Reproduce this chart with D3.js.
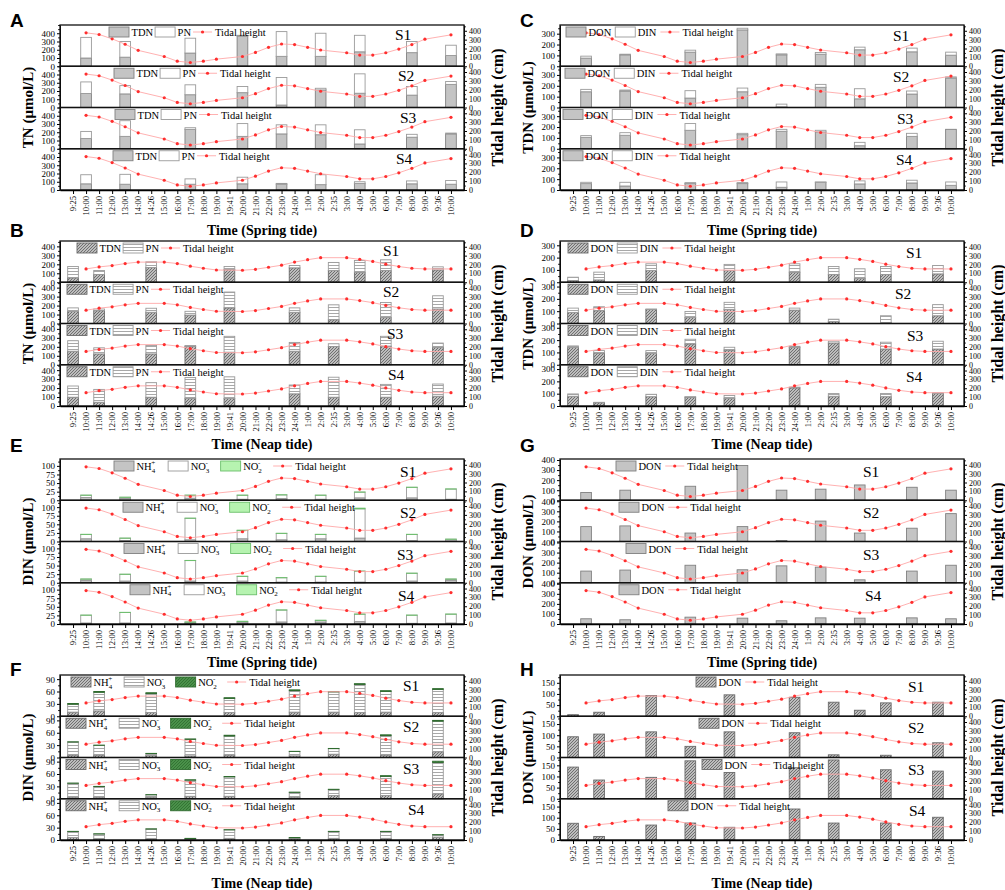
<!DOCTYPE html>
<html lang="en">
<head>
<meta charset="UTF-8">
<title>Nitrogen species vs tidal height</title>
<script src="https://cdnjs.cloudflare.com/ajax/libs/d3/7.8.5/d3.min.js"></script>
<style>
  body { margin: 0; background: #fff; }
  text { font-family: "Liberation Serif", "Times New Roman", serif; fill: #000; }
  .tick line, .domain { stroke: #000; }
</style>
</head>
<body>
<script>
// ---- categories (time axis, same labels for spring and neap) ----
const timeKeys = ["9:25","10:00","11:00","12:00","13:00","14:00","14:26","15:00","16:00","17:00",
  "18:00","19:00","19:41","20:00","21:00","22:00","23:00","24:00","1:00","2:00","2:35","3:00",
  "4:00","5:00","6:00","7:00","8:00","9:00","9:36","10:00 b"];
const tideTimes = ["10:00","11:00","12:00","13:00","14:00","15:00","16:00","17:00","18:00","19:00",
  "20:00","21:00","22:00","23:00","24:00","1:00","2:00","3:00","4:00","5:00","6:00","7:00","8:00","9:00","10:00 b"];
const springSamples = ["10:00","13:00","17:00","20:00","23:00","2:00","4:00","8:00","10:00 b"];
const neapSamples = ["9:25","11:00","14:26","17:00","19:41","24:00","2:35","4:00","6:00","9:36"];

// ---- tidal height (cm) ----
const springTide = [377,358,309,248,179,110,57,42,57,80,110,156,213,251,244,213,183,152,126,126,152,194,244,305,354];
const neapTide = [150,173,188,211,227,227,211,181,158,138,135,146,169,192,227,254,277,277,258,235,204,177,158,150,150];

// ---- A: TN spring (rows S1..S4) ----
const aTDN = [[100,110,160,365,120,120,175,165,130],[170,165,155,180,30,213,173,150,280],
  [125,150,235,150,180,170,58,140,180],[75,70,70,75,70,65,80,75,70]];
const aPN = [[250,190,180,10,300,280,200,135,125],[140,100,120,75,334,20,235,105,35],
  [85,190,20,155,110,120,172,35,10],[110,120,65,80,10,120,20,35,45]];
// ---- B: TN neap ----
const bTDN = [[49,86,165,null,142,161,131,112,131,138],[136,143,125,94,174,125,42,null,68,162],
  [151,121,121,204,140,151,204,null,208,196],[98,42,98,87,83,136,98,null,98,109]];
const bPN = [[127,45,63,null,34,26,90,131,119,34],[38,19,45,42,177,49,166,null,166,147],
  [117,68,94,11,177,98,30,null,109,46],[125,143,162,230,242,98,223,null,143,136]];
// ---- C: TDN spring ----
const cDON = [[75,105,130,335,105,111,152,133,102],[145,152,87,145,6,186,80,124,272],
  [105,124,170,130,161,155,28,114,179],[59,37,59,59,25,71,56,65,43]];
const cDIN = [[18,6,18,15,9,16,24,34,28],[22,9,68,34,25,27,93,28,10],
  [16,24,62,12,18,15,31,28,0],[12,34,9,9,49,3,28,25,31]];
// ---- D: TDN neap ----
const dDON = [[14,19,95,null,95,82,63,33,63,68],[90,104,115,49,115,109,16,null,8,63],
  [142,95,93,169,120,142,177,null,128,128],[79,27,76,71,63,147,79,null,76,104]];
const dDIN = [[27,63,55,null,50,68,65,76,65,68],[35,32,2,49,57,16,19,null,55,90],
  [11,20,22,38,22,8,14,null,55,63],[19,3,19,5,22,6,22,null,25,2]];
// ---- E: DIN spring ----
const eNH4 = [[8,5,6,3,5,3,7,7,3],[8,3,5,8,5,8,10,3,2],[7,5,5,5,2,2,2,5,8],[3,3,3,4,6,6,7,2,3]];
const eNO3 = [[6.5,3.5,8.5,11.5,10.5,11.5,16.5,30.5,29.5],[12.5,6.5,62.5,24,18.5,12.5,85,17.5,4.5],
  [3.5,19.5,59.5,13.5,12.5,16.5,31.5,22.5,2.5],[22.5,30.5,2.5,3.5,34.5,4.5,21.5,23.5,25.5]];
const eNO2 = [[0.5,0.5,0.5,0.5,0.5,0.5,0.5,0.5,0.5],[0.5,0.5,0.5,1,0.5,0.5,2,0.5,0.5],
  [0.5,0.5,0.5,0.5,0.5,0.5,0.5,0.5,0.5],[0.5,0.5,0.5,0.5,0.5,0.5,0.5,0.5,0.5]];
// ---- F: DIN neap ----
const fNH4 = [[10,13,9,null,9,10,10,9,10,9],[6,6,5,4,6,4,8,null,6,14],
  [4,4,4,6,6,4,8,null,8,12],[6,3,3,2,4,4,4,null,4,7]];
const fNO3 = [[19,45,46,null,34,52,49,68,50,56],[31.5,23.5,4.5,40,46,10.5,13.5,null,47,74],
  [33.5,25.5,5.5,39,47,11.5,14.5,null,46,76],[14.5,11.5,23.5,1.5,20.5,1.5,16.5,null,16.5,5.5]];
const fNO2 = [[2,2,2,null,2,2,1,2,2,2],[0.5,0.5,0.5,1,2,0.5,0.5,null,2,2],
  [0.5,0.5,0.5,1,1,0.5,0.5,null,2,3],[0.5,0.5,0.5,0.5,0.5,0.5,0.5,null,0.5,0.5]];
// ---- G: DON spring ----
const gDON = [[77,100,139,345,100,110,152,129,100],[148,155,84,148,10,203,84,132,277],
  [116,126,174,129,168,155,29,116,174],[52,42,68,58,32,61,58,61,52]];
// ---- H: DON neap ----
const hDON = [[7,18,93,null,96,85,63,27,60,63],[93,105,115,50,115,111,12,null,10,66],
  [142,84,96,170,118,139,174,null,130,124],[75,16,67,76,57,139,76,null,76,102]];

const stations = ["S1","S2","S3","S4"];

// ---- layout ----
const W = 1005, H = 890;
const colX = [60, 560], plotW = 404;
const rowY = [25, 241, 459, 675], plotH = 165, subH = plotH / 4;
const letterX = [10, 520], letterY = [27, 237, 452, 676];
const xTitleY = [235, 449, 667, 888];
const rightMax = 465;

const svg = d3.select("body").append("svg").attr("width", W).attr("height", H);
const defs = svg.append("defs");

// patterns for neap bars
const hatch = defs.append("pattern").attr("id", "hatch").attr("patternUnits", "userSpaceOnUse")
  .attr("width", 3).attr("height", 3);
hatch.append("rect").attr("width", 3).attr("height", 3).attr("fill", "#bdbdbd");
hatch.append("path").attr("d", "M-1,1 l2,-2 M0,3 l3,-3 M2,4 l2,-2")
  .attr("stroke", "#5c5c5c").attr("stroke-width", 0.8);
const hline = defs.append("pattern").attr("id", "hline").attr("patternUnits", "userSpaceOnUse")
  .attr("width", 4).attr("height", 3);
hline.append("rect").attr("width", 4).attr("height", 3).attr("fill", "#fff");
hline.append("line").attr("x1", 0).attr("x2", 4).attr("y1", 1.5).attr("y2", 1.5)
  .attr("stroke", "#a8a8a8").attr("stroke-width", 1);
const dgreen = defs.append("pattern").attr("id", "dgreen").attr("patternUnits", "userSpaceOnUse")
  .attr("width", 3).attr("height", 3);
dgreen.append("rect").attr("width", 3).attr("height", 3).attr("fill", "#4a914a");
dgreen.append("path").attr("d", "M0,3 l3,-3").attr("stroke", "#2f6b2f").attr("stroke-width", 0.8);

const styles = {
  grey:   { fill: "#c4c4c4", stroke: "#808080" },
  white:  { fill: "#ffffff", stroke: "#9a9a9a" },
  lgreen: { fill: "#b6f3b0", stroke: "#6cbf6c" },
  hatch:  { fill: "url(#hatch)", stroke: "#6a6a6a" },
  hline:  { fill: "url(#hline)", stroke: "#9a9a9a" },
  dgreen: { fill: "url(#dgreen)", stroke: "#2f6b2f" }
};

function plain(s) { return t => t.text(s); }
function ion(base, sub, sup) {
  return t => {
    t.text(base);
    t.append("tspan").attr("font-size", 7).attr("dy", 2.5).text(sub);
    t.append("tspan").attr("font-size", 7).attr("dx", -3.8).attr("dy", -7.5).text(sup);
  };
}

const panels = [
  { letter: "A", col: 0, row: 0, tide: "spring", yTitle: "TN (\u03bcmol/L)", yMax: 500,
    ticks: [0,100,200,300,400], minor: 50, gap: 2,
    series: [{ key: "TDN", data: aTDN, style: "grey", label: plain("TDN") },
             { key: "PN", data: aPN, style: "white", label: plain("PN") }],
    legendX: [49,54,55,53], stX: [335,338,340,336], stY: 15 },
  { letter: "B", col: 0, row: 1, tide: "neap", yTitle: "TN (\u03bcmol/L)", yMax: 460,
    ticks: [0,100,200,300,400], minor: 50, gap: 2,
    series: [{ key: "TDN", data: bTDN, style: "hatch", label: plain("TDN") },
             { key: "PN", data: bPN, style: "hline", label: plain("PN") }],
    legendX: [17,7,7,7], stX: [323,323,327,328], stY: 15 },
  { letter: "C", col: 1, row: 0, tide: "spring", yTitle: "TDN (\u03bcmol/L)", yMax: 380,
    ticks: [0,100,200,300], minor: 50, gap: 4,
    series: [{ key: "DON", data: cDON, style: "grey", label: plain("DON") },
             { key: "DIN", data: cDIN, style: "white", label: plain("DIN") }],
    legendX: [6,5,3,3], stX: [333,333,337,336], stY: 16 },
  { letter: "D", col: 1, row: 1, tide: "neap", yTitle: "TDN (\u03bcmol/L)", yMax: 335,
    ticks: [0,100,200,300], minor: 50, gap: 4,
    series: [{ key: "DON", data: dDON, style: "hatch", label: plain("DON") },
             { key: "DIN", data: dDIN, style: "hline", label: plain("DIN") }],
    legendX: [8,8,8,8], stX: [346,335,347,346], stY: 17 },
  { letter: "E", col: 0, row: 2, tide: "spring", yTitle: "DIN (\u03bcmol/L)", yMax: 120,
    ticks: [0,25,50,75,100], minor: 12.5, gap: 9,
    series: [{ key: "NH4", data: eNH4, style: "grey", label: ion("NH", "4", "+") },
             { key: "NO3", data: eNO3, style: "white", label: ion("NO", "3", "-") },
             { key: "NO2", data: eNO2, style: "lgreen", label: ion("NO", "2", "-") }],
    legendX: [54,63,64,70], stX: [340,340,337,338], stY: 18 },
  { letter: "F", col: 0, row: 3, tide: "neap", yTitle: "DIN (\u03bcmol/L)", yMax: 100,
    ticks: [0,30,60,90], minor: 15, gap: 8,
    series: [{ key: "NH4", data: fNH4, style: "hatch", label: ion("NH", "4", "+") },
             { key: "NO3", data: fNO3, style: "hline", label: ion("NO", "3", "-") },
             { key: "NO2", data: fNO2, style: "dgreen", label: ion("NO", "2", "-") }],
    legendX: [11,6,6,6], stX: [343,343,343,348], stY: 16 },
  { letter: "G", col: 1, row: 2, tide: "spring", yTitle: "DON (\u03bcmol/L)", yMax: 410,
    ticks: [0,100,200,300,400], minor: 50, gap: 4,
    series: [{ key: "DON", data: gDON, style: "grey", label: plain("DON") }],
    legendX: [56,59,66,59], stX: [303,303,303,305], stY: 18 },
  { letter: "H", col: 1, row: 3, tide: "neap", yTitle: "DON (\u03bcmol/L)", yMax: 185,
    ticks: [0,50,100,150], minor: 25, gap: 4,
    series: [{ key: "DON", data: hDON, style: "hatch", label: plain("DON") }],
    legendX: [136,139,142,108], stX: [348,348,348,349], stY: 17 }
];

panels.forEach(drawPanel);

function drawPanel(p) {
  const x0 = colX[p.col], y0 = rowY[p.row];
  const x = d3.scalePoint().domain(timeKeys).range([x0, x0 + plotW]).padding(1);
  const bw = x.step() * 0.82;
  const samples = p.tide === "spring" ? springSamples : neapSamples;
  const tideVals = p.tide === "spring" ? springTide : neapTide;
  const keys = p.series.map(s => s.key);
  const minorVals = d3.range(0, p.yMax + 0.01, p.minor).filter(v => !p.ticks.includes(v));

  stations.forEach((st, s) => {
    const top = y0 + s * subH, bot = top + subH;
    const y = d3.scaleLinear().domain([0, p.yMax]).range([bot, top]);
    const yr = d3.scaleLinear().domain([0, rightMax]).range([bot, top]);
    const g = svg.append("g");

    // stacked bars
    const rows = samples.map((t, i) => {
      const o = { t };
      p.series.forEach(se => { o[se.key] = se.data[s][i]; });
      return o;
    }).filter(r => r[keys[0]] != null);
    const stacked = d3.stack().keys(keys)(rows);
    stacked.forEach((layer, li) => {
      const sty = styles[p.series[li].style];
      g.append("g").selectAll("rect").data(layer).join("rect")
        .attr("x", d => x(d.data.t) - bw / 2)
        .attr("width", bw)
        .attr("y", d => y(d[1]))
        .attr("height", d => Math.max(0, y(d[0]) - y(d[1])))
        .attr("fill", sty.fill)
        .attr("stroke", sty.stroke)
        .attr("stroke-width", 0.9);
    });

    // tidal height
    const line = d3.line().x((d, i) => x(tideTimes[i])).y(d => yr(d));
    g.append("path").datum(tideVals).attr("d", line)
      .attr("fill", "none").attr("stroke", "#ffa8a8").attr("stroke-width", 0.9);
    g.append("g").selectAll("circle").data(tideVals).join("circle")
      .attr("cx", (d, i) => x(tideTimes[i])).attr("cy", d => yr(d))
      .attr("r", 1.6).attr("fill", "#ff2e2e");

    // axes
    const la = g.append("g").attr("transform", `translate(${x0},0)`)
      .call(d3.axisLeft(y).tickValues(p.ticks).tickSize(3).tickSizeOuter(0).tickPadding(2));
    la.selectAll("text").attr("font-size", 9).attr("fill", "#000");
    g.append("g").attr("transform", `translate(${x0},0)`)
      .call(d3.axisLeft(y).tickValues(minorVals).tickSize(1.8).tickFormat(""))
      .select(".domain").remove();
    const ra = g.append("g").attr("transform", `translate(${x0 + plotW},0)`)
      .call(d3.axisRight(yr).tickValues([0,100,200,300,400]).tickSize(3).tickSizeOuter(0).tickPadding(2));
    ra.selectAll("text").attr("font-size", 8).attr("fill", "#000");
    g.append("g").attr("transform", `translate(${x0 + plotW},0)`)
      .call(d3.axisRight(yr).tickValues([50,150,250,350,450]).tickSize(1.8).tickFormat(""))
      .select(".domain").remove();

    // frame
    g.append("rect").attr("x", x0).attr("y", top).attr("width", plotW).attr("height", subH)
      .attr("fill", "none").attr("stroke", "#111").attr("stroke-width", 1.3);

    // legend
    let cx = x0 + p.legendX[s];
    const ly = top + 2;
    p.series.forEach(se => {
      const sty = styles[se.style];
      g.append("rect").attr("x", cx).attr("y", ly).attr("width", 20).attr("height", 10)
        .attr("fill", sty.fill).attr("stroke", sty.stroke).attr("stroke-width", 0.9);
      cx += 22.5;
      const t = g.append("text").attr("x", cx).attr("y", ly + 9).attr("font-size", 10.5);
      se.label(t);
      cx += t.node().getComputedTextLength() + p.gap;
    });
    g.append("line").attr("x1", cx).attr("x2", cx + 19).attr("y1", ly + 5).attr("y2", ly + 5)
      .attr("stroke", "#ffa8a8").attr("stroke-width", 0.9);
    g.append("circle").attr("cx", cx + 9.5).attr("cy", ly + 5).attr("r", 1.6).attr("fill", "#ff2e2e");
    g.append("text").attr("x", cx + 22).attr("y", ly + 9).attr("font-size", 10.5).text("Tidal height");

    // station label
    g.append("text").attr("x", x0 + p.stX[s]).attr("y", top + p.stY)
      .attr("font-size", 15.5).text(st);
  });

  // bottom axis
  const bottom = y0 + plotH;
  const xa = svg.append("g").attr("transform", `translate(0,${bottom})`)
    .call(d3.axisBottom(x).tickSize(4).tickSizeOuter(0).tickFormat(k => k.split(" ")[0]));
  xa.select(".domain").attr("stroke", "#111").attr("stroke-width", 1.3);
  xa.selectAll("text")
    .attr("font-size", 8.5).attr("fill", "#000")
    .attr("transform", "rotate(-90)")
    .attr("x", -6).attr("y", 0).attr("dy", "0.32em")
    .style("text-anchor", "end");

  // titles
  svg.append("text").attr("x", x0 + plotW / 2).attr("y", xTitleY[p.row])
    .attr("text-anchor", "middle").attr("font-size", 14).attr("font-weight", "bold")
    .text(p.tide === "spring" ? "Time (Spring tide)" : "Time (Neap tide)");
  svg.append("text")
    .attr("transform", `translate(${x0 - 32},${y0 + plotH / 2}) rotate(-90)`)
    .attr("text-anchor", "middle").attr("dominant-baseline", "central")
    .attr("font-size", 15).attr("font-weight", "bold").text(p.yTitle);
  svg.append("text")
    .attr("transform", `translate(${x0 + plotW + 33},${y0 + plotH / 2}) rotate(-90)`)
    .attr("text-anchor", "middle").attr("dominant-baseline", "central")
    .attr("font-size", 16).attr("font-weight", "bold").text("Tidal height (cm)");
  svg.append("text").attr("x", letterX[p.col]).attr("y", letterY[p.row])
    .style("font-family", "'Liberation Sans', Arial, sans-serif")
    .attr("font-size", 19).attr("font-weight", "bold").text(p.letter);
}
</script>
</body>
</html>
